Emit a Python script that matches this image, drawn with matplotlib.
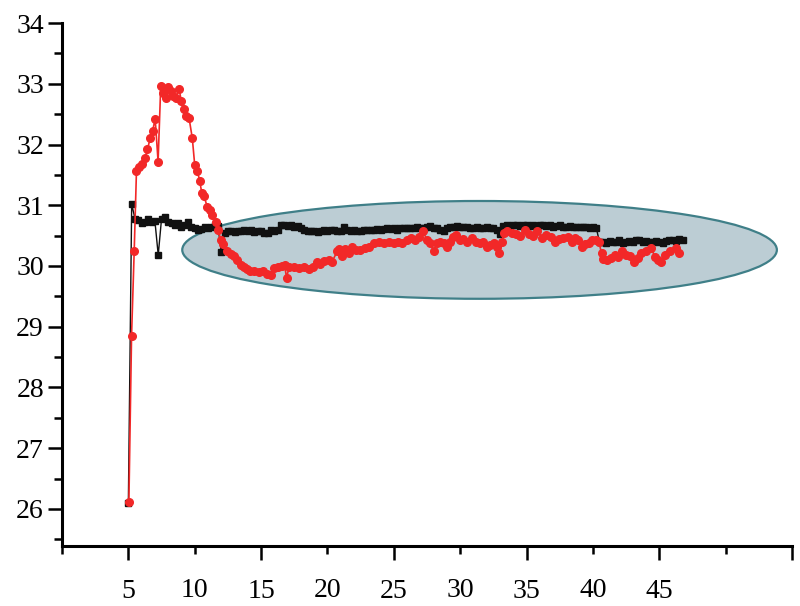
import matplotlib
matplotlib.use('Agg')
import matplotlib.pyplot as plt
from matplotlib.patches import Ellipse

plt.rcParams['font.family'] = ['Liberation Serif', 'DejaVu Serif']

# black series (squares)
black_x = [5.00, 5.25, 5.50, 5.75, 6.00, 6.25, 6.50, 6.75, 7.00, 7.25, 7.50, 7.75,
           8.00, 8.25, 8.50, 8.75, 9.00, 9.25, 9.50, 9.75, 10.00, 10.25, 10.50, 10.75,
           11.00, 11.25, 11.50, 11.75, 12.00, 12.25, 12.50, 12.75, 13.00, 13.25, 13.50, 13.75,
           14.00, 14.25, 14.50, 14.75, 15.00, 15.25, 15.50, 15.75, 16.00, 16.25, 16.50, 16.75,
           17.00, 17.25, 17.50, 17.75, 18.00, 18.25, 18.50, 18.75, 19.00, 19.25, 19.50, 19.75,
           20.00, 20.25, 20.50, 20.75, 21.00, 21.25, 21.50, 21.75, 22.00, 22.25, 22.50, 22.75,
           23.00, 23.25, 23.50, 23.75, 24.00, 24.25, 24.50, 24.75, 25.00, 25.25, 25.50, 25.75,
           26.00, 26.25, 26.50, 26.75, 27.00, 27.25, 27.50, 27.75, 28.00, 28.25, 28.50, 28.75,
           29.00, 29.25, 29.50, 29.75, 30.00, 30.25, 30.50, 30.75, 31.00, 31.25, 31.50, 31.75,
           32.00, 32.25, 32.50, 32.75, 33.00, 33.25, 33.50, 33.75, 34.00, 34.25, 34.50, 34.75,
           35.00, 35.25, 35.50, 35.75, 36.00, 36.25, 36.50, 36.75, 37.00, 37.25, 37.50, 37.75,
           38.00, 38.25, 38.50, 38.75, 39.00, 39.25, 39.50, 39.75, 40.00, 40.25, 40.50, 40.75,
           41.00, 41.25, 41.50, 41.75, 42.00, 42.25, 42.50, 42.75, 43.00, 43.25, 43.50, 43.75,
           44.00, 44.25, 44.50, 44.75, 45.00, 45.25, 45.50, 45.75, 46.00, 46.25, 46.50, 46.75]
black_y = [26.10, 31.02, 30.78, 30.75, 30.70, 30.73, 30.77, 30.72, 30.74, 30.18, 30.78, 30.80,
           30.72, 30.70, 30.67, 30.70, 30.64, 30.67, 30.73, 30.64, 30.62, 30.59, 30.61, 30.65,
           30.62, 30.64, 30.67, 30.66, 30.23, 30.55, 30.57, 30.58, 30.56, 30.58, 30.57, 30.60,
           30.58, 30.59, 30.56, 30.57, 30.58, 30.54, 30.55, 30.60, 30.58, 30.60, 30.67, 30.68,
           30.66, 30.68, 30.64, 30.66, 30.62, 30.60, 30.58, 30.57, 30.58, 30.56, 30.58, 30.59,
           30.58, 30.60, 30.59, 30.57, 30.58, 30.64, 30.60, 30.58, 30.59, 30.57, 30.58, 30.60,
           30.59, 30.59, 30.60, 30.61, 30.60, 30.61, 30.62, 30.61, 30.62, 30.60, 30.62, 30.63,
           30.62, 30.62, 30.63, 30.64, 30.63, 30.62, 30.65, 30.66, 30.63, 30.63, 30.60, 30.58,
           30.62, 30.65, 30.64, 30.66, 30.65, 30.64, 30.65, 30.62, 30.63, 30.64, 30.63, 30.62,
           30.64, 30.63, 30.62, 30.60, 30.53, 30.66, 30.67, 30.66, 30.67, 30.68, 30.66, 30.67,
           30.68, 30.66, 30.67, 30.65, 30.67, 30.68, 30.66, 30.67, 30.65, 30.66, 30.67, 30.65,
           30.64, 30.66, 30.65, 30.64, 30.65, 30.64, 30.65, 30.63, 30.64, 30.63, 30.39, 30.40,
           30.38, 30.41, 30.39, 30.40, 30.42, 30.38, 30.40, 30.41, 30.39, 30.42, 30.43, 30.40,
           30.41, 30.40, 30.39, 30.41, 30.40, 30.38, 30.41, 30.42, 30.43, 30.41, 30.44, 30.42]

# red series (circles)
red_x = [5.04, 5.24, 5.44, 5.61, 5.82, 5.99, 6.24, 6.44, 6.64, 6.82, 7.02, 7.24,
         7.44, 7.62, 7.82, 8.02, 8.20, 8.40, 8.57, 8.82, 9.00, 9.20, 9.38, 9.57,
         9.82, 10.00, 10.20, 10.38, 10.53, 10.70, 10.95, 11.15, 11.33, 11.58, 11.78, 11.95,
         12.15, 12.45, 12.70, 12.95, 13.20, 13.46, 13.70, 13.96, 14.20, 14.50, 14.83, 15.16,
         15.47, 15.77, 15.96, 16.27, 16.60, 16.77, 16.92, 17.10, 17.47, 17.85, 18.20, 18.60,
         18.90, 19.20, 19.47, 19.77, 20.10, 20.35, 20.73, 20.90, 21.10, 21.35, 21.60, 21.85,
         22.16, 22.48, 22.80, 23.10, 23.48, 23.86, 24.23, 24.60, 24.98, 25.30, 25.60, 25.98,
         26.30, 26.60, 26.87, 27.17, 27.50, 27.74, 28.00, 28.25, 28.50, 28.75, 29.00, 29.25,
         29.45, 29.70, 29.95, 30.25, 30.55, 30.88, 31.20, 31.50, 31.75, 32.00, 32.26, 32.56,
         32.76, 32.95, 33.13, 33.30, 33.56, 33.90, 34.20, 34.50, 34.90, 35.20, 35.50, 35.80,
         36.20, 36.50, 36.85, 37.14, 37.44, 37.77, 38.10, 38.40, 38.65, 38.90, 39.15, 39.40,
         39.70, 39.95, 40.20, 40.45, 40.65, 40.77, 41.03, 41.35, 41.65, 41.90, 42.16, 42.46,
         42.78, 43.10, 43.40, 43.66, 44.00, 44.40, 44.66, 44.90, 45.10, 45.40, 45.80, 46.24,
         46.50]
red_y = [26.12, 28.85, 30.25, 31.56, 31.63, 31.68, 31.77, 31.92, 32.10, 32.22, 32.42, 31.72,
         32.97, 32.84, 32.77, 32.95, 32.88, 32.80, 32.77, 32.91, 32.71, 32.59, 32.47, 32.44,
         32.10, 31.66, 31.56, 31.40, 31.20, 31.15, 30.97, 30.92, 30.84, 30.73, 30.59, 30.43,
         30.37, 30.24, 30.20, 30.16, 30.10, 30.02, 29.98, 29.95, 29.92, 29.91, 29.90, 29.91,
         29.87, 29.85, 29.96, 29.98, 30.00, 30.02, 29.80, 29.98, 29.99, 29.96, 29.98, 29.95,
         29.98, 30.06, 30.03, 30.09, 30.10, 30.07, 30.24, 30.28, 30.16, 30.28, 30.21, 30.31,
         30.26, 30.26, 30.30, 30.31, 30.38, 30.40, 30.38, 30.40, 30.38, 30.40, 30.38, 30.42,
         30.46, 30.43, 30.48, 30.58, 30.43, 30.38, 30.25, 30.38, 30.40, 30.38, 30.32, 30.40,
         30.48, 30.51, 30.42, 30.44, 30.40, 30.46, 30.40, 30.38, 30.40, 30.32, 30.35, 30.38,
         30.32, 30.22, 30.40, 30.54, 30.58, 30.54, 30.53, 30.49, 30.59, 30.53, 30.49, 30.58,
         30.46, 30.51, 30.48, 30.40, 30.44, 30.46, 30.48, 30.40, 30.46, 30.42, 30.32, 30.36,
         30.38, 30.42, 30.43, 30.40, 30.21, 30.11, 30.10, 30.13, 30.18, 30.15, 30.24, 30.18,
         30.16, 30.07, 30.13, 30.21, 30.24, 30.30, 30.15, 30.10, 30.06, 30.18, 30.24, 30.30,
         30.21]

# highlighted region (center, width, height in data units)
ell_center = (31.46, 30.265)
ell_w, ell_h = 44.8, 1.61

fig = plt.figure(figsize=(8, 6.06), dpi=100)
ax = fig.add_axes([0.0775, 0.099, 0.9125, 0.863])

ax.add_patch(Ellipse(ell_center, ell_w, ell_h, facecolor='#bccdd4',
                     edgecolor='#3f7f88', linewidth=1.6, zorder=1))

ax.plot(black_x, black_y, color='#111111', lw=1.0, marker='s', ms=4.5,
        mec='#111111', mfc='#111111', zorder=3)
ax.plot(red_x, red_y, color='#f22828', lw=1.2, marker='o', ms=5.5,
        mec='#f22828', mfc='#f22828', zorder=4)

ax.set_xlim(0, 55)
ax.set_ylim(25.39, 34)

for s in ['top', 'right']:
    ax.spines[s].set_visible(False)
for s in ['left', 'bottom']:
    ax.spines[s].set_linewidth(2.2)
ax.spines['left'].set_bounds(25.39, 34)

ax.set_yticks([26, 27, 28, 29, 30, 31, 32, 33, 34])
ax.set_yticks([25.5, 26.5, 27.5, 28.5, 29.5, 30.5, 31.5, 32.5, 33.5], minor=True)
ax.set_xticks([5, 15, 25, 35, 45, 55])
ax.set_xticklabels(['5', '15', '25', '35', '45', ''])
ax.set_xticks([0, 10, 20, 30, 40, 50], minor=True)
ax.set_xticklabels(['', '10', '20', '30', '40', ''], minor=True)

ax.tick_params(axis='y', which='major', direction='out', length=10, width=1.8,
               labelsize=20, pad=3)
ax.tick_params(axis='y', which='minor', direction='out', length=6, width=1.8)
ax.tick_params(axis='x', which='major', direction='out', length=10, width=1.8,
               labelsize=20, pad=14)
ax.tick_params(axis='x', which='minor', direction='out', length=6, width=1.8,
               labelsize=20, pad=17)

fig.savefig('out.png', dpi=100)
